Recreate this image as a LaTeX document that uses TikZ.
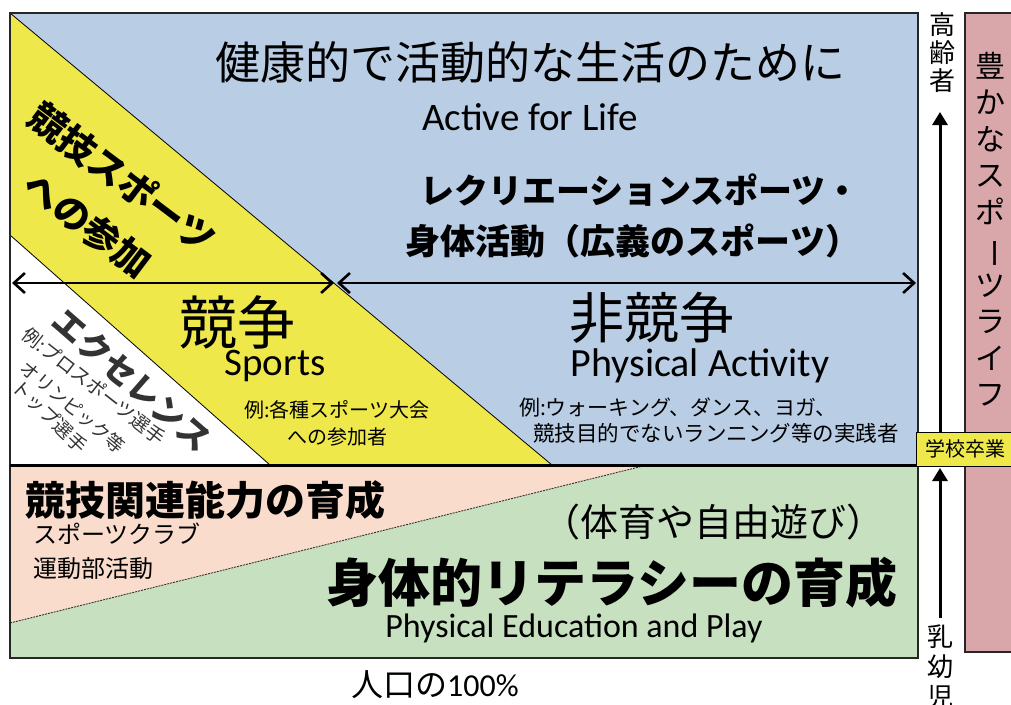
\documentclass[tikz,border=0pt]{standalone}
\usepackage{fontspec}
\setmainfont{Carlito}
\newfontfamily\jp{Noto Sans CJK JP}
\usetikzlibrary{arrows.meta}
\definecolor{cblue}{HTML}{B9CDE5}
\definecolor{cyellow}{HTML}{EEE84A}
\definecolor{cpeach}{HTML}{F9DCCB}
\definecolor{cgreen}{HTML}{C6E0C0}
\definecolor{cpink}{HTML}{D9A7AA}
\definecolor{cgray}{HTML}{333333}
\newcommand\fsz[2]{\fontsize{#1}{#2}\selectfont}
\newcommand\vbar{\rotatebox[origin=c]{-90}{ー}}
\begin{document}
\begin{tikzpicture}[x=1pt,y=-1pt,
  box/.style={draw=black!85,line width=1.5pt},
  diag/.style={draw=black,line width=0.8pt},
  harrow/.style={line width=2.6pt,{Straight Barb[length=11pt,width=20pt,line width=2.6pt]}-{Straight Barb[length=11pt,width=20pt,line width=2.6pt]}},
  varrow/.style={line width=3pt,-{Triangle[length=13pt,width=15pt]}},
  txt/.style={inner sep=0pt,outer sep=0pt,text=black},
  vtxt/.style={txt,align=center,font=\jp\fsz{26}{28}},
]
\useasboundingbox (0,0) rectangle (1011,704);
\clip (0,0) rectangle (1011,704);
\fill[white] (0,0) rectangle (1011,704);

% upper region
\fill[cblue] (10,13) rectangle (918,465);
\fill[cyellow] (10,13) -- (552,465) -- (10,465) -- cycle;
\fill[white] (10,235) -- (270,465) -- (10,465) -- cycle;
\draw[diag] (10,13) -- (552,465);
\draw[diag] (10,235) -- (270,465);

% lower region
\fill[cgreen] (10,465) rectangle (918,658);
\fill[cpeach] (10,465) -- (647,465) -- (10,623) -- cycle;
\draw[black!80,line width=0.9pt,dash pattern=on 2pt off 1pt] (10,623) -- (647,465);

\draw[box] (10,13) rectangle (918,465);
\draw[box] (10,465) rectangle (918,658);
\draw[black,line width=3pt] (10,465) -- (918,465);

% right column
\draw[box,fill=cpink] (965,13) rectangle (1030,652);
\node[txt,align=center,font=\jp\fsz{30}{36.5}] (life) at (990,229)
  {豊\\か\\な\\ス\\ポ\\\vbar\\ツ\\ラ\\イ\\フ};

\node[draw=black,line width=1.2pt,fill=cyellow,minimum width=110pt,minimum height=34pt,anchor=north west,inner sep=0pt] (grad) at (916,432) {};
\node[txt,font=\jp\fsz{20}{22}] (gradt) at (965,449) {学校卒業};

\node[vtxt] (old) at (942,53) {高\\齢\\者};
\node[vtxt,align=center,font=\jp\fsz{26}{30}] (young) at (940,667) {乳\\幼\\児};

\coordinate (u0) at (940,432);
\coordinate (u1) at (940,112);
\coordinate (l0) at (940,618);
\coordinate (l1) at (940,468);
\draw[varrow] (u0) -- (u1);
\draw[varrow] (l0) -- (l1);

% horizontal arrows
\coordinate (hL) at (12,283);
\coordinate (hM1) at (334,283);
\coordinate (hM2) at (337,283);
\coordinate (hR) at (916,283);
\draw[harrow] (hL) -- (hM1);
\draw[harrow] (hM2) -- (hR);

% texts upper
\node[txt,font=\jp\fsz{45}{50}] (title) at (530,62) {健康的で活動的な生活のために};
\node[txt,font=\fsz{39}{44}] (afl) at (530,117) {Active for Life};
\node[txt,font=\jp\bfseries\fsz{34}{40}] (rec1) at (640,190) {レクリエーションスポーツ・};
\node[txt,font=\jp\bfseries\fsz{35}{40}] (rec2) at (633,241) {身体活動（広義のスポーツ）};

\node[txt,font=\jp\fsz{58}{62}] (kyoso) at (237,322) {競争};
\node[txt,font=\fsz{39}{44}] (sports) at (275,366) {Sports};
\node[txt,align=center,font=\jp\fsz{20}{27}] (ex1) at (337,423) {例:各種スポーツ大会\\への参加者};

\node[txt,font=\jp\fsz{55}{60}] (hikyoso) at (652,318) {非競争};
\node[txt,font=\fsz{40}{44}] (pa) at (700,366) {Physical Activity};
\node[txt,anchor=west,font=\jp\fsz{21}{24}] (ex2a) at (519,407) {例:ウォーキング、ダンス、ヨガ、};
\node[txt,anchor=west,font=\jp\fsz{21.5}{24}] (ex2b) at (533,433) {競技目的でないランニング等の実践者};

\node[txt,align=center,rotate=-37,font=\jp\bfseries\fsz{37}{58}] (kyogi) at (105,201) {競技スポーツ\\への参加};

\node[txt,rotate=-41,text=cgray,font=\jp\bfseries\fsz{33}{38}] (exc) at (132,380) {エクセレンス};
\node[txt,rotate=-38,text=cgray,font=\jp\fsz{19}{22}] (exc1) at (94,386) {例:プロスポーツ選手};
\node[txt,rotate=-40,text=cgray,font=\jp\fsz{18.5}{22}] (exc2) at (73,407) {オリンピック等};
\node[txt,rotate=-44,text=cgray,font=\jp\fsz{19}{22}] (exc3) at (50,416) {トップ選手};

% texts lower
\node[txt,anchor=west,font=\jp\bfseries\fsz{40}{44}] (dev) at (25,500) {競技関連能力の育成};
\node[txt,anchor=west,font=\jp\fsz{24}{28}] (club) at (33,534) {スポーツクラブ};
\node[txt,anchor=west,font=\jp\fsz{24}{28}] (bukatsu) at (33,568) {運動部活動};
\node[txt,font=\jp\fsz{38}{42}] (pe) at (713,522) {（体育や自由遊び）};
\node[txt,font=\jp\bfseries\fsz{52}{56}] (lit) at (612,583) {身体的リテラシーの育成};
\node[txt,font=\fsz{34}{38}] (pep) at (574,628) {Physical Education and Play};
\node[txt,font=\fsz{32}{36}] (pop) at (435,685) {{\jp 人口の}100\%};
\end{tikzpicture}
\end{document}
